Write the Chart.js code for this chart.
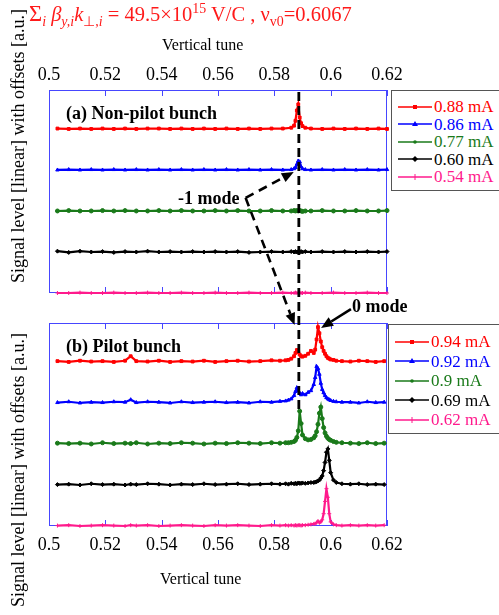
<!DOCTYPE html>
<html><head><meta charset="utf-8">
<script src="https://cdn.jsdelivr.net/npm/chart.js@4/dist/chart.umd.min.js"></script>
<style>
html,body{margin:0;padding:0;background:#fff;}
#wrap{position:relative;width:499px;height:615px;overflow:hidden;font-family:"Liberation Serif","Times New Roman",serif;color:#000;}
canvas{position:absolute;left:0;}
#cA{top:0;}
#cB{top:300px;}
#ov{top:0;pointer-events:none;}
.t{position:absolute;white-space:nowrap;line-height:1;}
sub,sup{font-size:0.68em;line-height:0;}
.b{font-weight:bold;font-size:18px;}
.ylab{position:absolute;font-size:18px;white-space:nowrap;line-height:1;transform:translate(-50%,-50%) rotate(-90deg);}
.leg{position:absolute;border:1px solid #555;background:#fff;font-size:17px;}
.leg div{position:absolute;left:6px;white-space:nowrap;line-height:1;display:flex;align-items:center;}
.leg svg{margin-right:2px;}
</style></head>
<body>
<div id="wrap">
<canvas id="cA" width="499" height="300"></canvas>
<canvas id="cB" width="499" height="315"></canvas>
<canvas id="ov" width="499" height="615"></canvas>

<div class="t" style="left:29px;top:3px;color:#ff1a1a;font-size:20.5px"><span style="font-size:1.1em">Σ</span><sub><i>i</i></sub> <i>β</i><sub><i>y,i</i></sub><i>k</i><sub>⊥,<i>i</i></sub> = 49.5×10<sup>15</sup> V/C , ν<sub>v0</sub>=0.6067</div>
<div class="t" style="left:162px;top:37px;font-size:16px">Vertical tune</div>
<div class="t" style="left:160px;top:571px;font-size:16px">Vertical tune</div>
<div class="ylab" style="left:18px;top:146px">Signal level [linear] with offsets [a.u.]</div>
<div class="ylab" style="left:18px;top:470px">Signal level [linear] with offsets [a.u.]</div>
<div class="t b" style="left:66px;top:104px">(a) Non-pilot bunch</div>
<div class="t b" style="left:66px;top:337px">(b) Pilot bunch</div>
<div class="t b" style="left:178px;top:189px">-1 mode</div>
<div class="t b" style="left:352px;top:297px">0 mode</div>
<div id="legA" class="leg" style="left:391px;top:90px;width:120px;height:99px"></div>
<div id="legB" class="leg" style="left:388px;top:324px;width:120px;height:108px"></div>
</div>
<script>
// ---------------- data ----------------
const tuneTicks = [0.5, 0.52, 0.54, 0.56, 0.58, 0.6, 0.62];
const offsets = [4, 3, 2, 1, 0];

// (a) Non-pilot bunch
const tuneA = [0.503,0.507,0.511,0.515,0.519,0.523,0.527,0.531,0.535,0.539,0.543,0.547,0.551,0.555,0.559,0.563,0.567,0.571,0.575,0.579,0.583,
  0.586,0.587,0.5875,0.588,0.5885,0.589,0.5895,0.590,0.591,
  0.593,0.597,0.601,0.605,0.609,0.613,0.617,0.620];
const labelsA = ['0.88 mA','0.86 mA','0.77 mA','0.60 mA','0.54 mA'];
const a088 = [0.01,0.00,0.01,0.00,0.01,0.00,0.01,0.00,0.01,0.01,0.00,0.01,0.00,0.01,0.00,0.01,0.00,0.01,0.00,0.01,0.01,
  0.03,0.08,0.20,0.45,0.60,0.28,0.14,0.07,0.03,
  0.01,0.00,0.01,0.00,0.01,0.00,0.01,0.00];
const a086 = [0.00,0.01,0.00,0.01,0.00,0.01,0.00,0.01,0.00,0.01,0.00,0.01,0.00,0.01,0.00,0.01,0.00,0.01,0.00,0.01,0.00,
  0.01,0.03,0.06,0.14,0.22,0.20,0.08,0.03,0.01,
  0.00,0.01,0.00,0.01,0.00,0.01,0.00,0.01];
const a077 = [0.00,0.01,0.00,0.00,0.01,0.00,0.01,0.00,0.00,0.01,0.00,0.01,0.00,0.00,0.01,0.00,0.01,0.00,0.00,0.01,0.00,
  0.00,0.01,0.00,0.01,0.00,0.01,0.00,-0.01,0.00,
  0.00,0.01,0.00,0.00,0.01,0.00,0.00,0.01];
const a060 = [0.02,-0.01,0.02,0.00,0.01,-0.01,0.01,0.00,0.02,0.00,0.01,0.00,0.01,0.00,0.01,0.00,0.01,-0.01,0.00,0.01,0.00,
  0.01,0.00,0.01,0.00,0.01,0.00,0.01,0.00,0.01,
  0.00,0.01,0.00,0.01,0.00,0.01,0.00,0.01];
const a054 = [0.00,0.00,0.01,0.00,0.00,0.01,0.00,0.00,0.01,0.00,0.00,0.01,0.00,0.00,0.01,0.00,0.00,0.01,0.00,0.00,0.01,
  0.00,0.00,0.01,0.00,0.00,0.01,0.00,0.00,0.01,
  0.00,0.00,0.01,0.00,0.00,0.01,0.00,0.00];

// (b) Pilot bunch
const tuneB = [0.503,0.507,0.511,0.515,0.519,0.523,0.527,0.529,0.531,0.535,0.539,0.543,0.547,0.551,0.555,0.559,0.563,0.567,0.571,0.575,0.579,0.582,
  0.584,0.585,0.586,0.587,0.5875,0.588,0.5885,0.589,0.5895,0.590,0.591,0.592,0.593,0.594,0.5945,0.595,0.5955,0.596,0.5965,0.597,0.5975,0.598,0.5985,0.599,0.5995,0.600,0.601,0.602,0.604,
  0.607,0.610,0.613,0.616,0.619];
const labelsB = ['0.94 mA','0.92 mA','0.9 mA','0.69 mA','0.62 mA'];
const b094 = [0.02,0.00,0.03,0.01,0.02,0.00,0.03,0.14,0.02,0.01,0.03,0.00,0.02,0.01,0.03,0.00,0.02,0.03,0.01,0.02,0.04,0.03,
  0.04,0.05,0.08,0.14,0.22,0.29,0.24,0.18,0.14,0.13,0.15,0.20,0.27,0.22,0.30,0.55,0.85,0.70,0.50,0.36,0.27,0.20,0.14,0.10,0.08,0.06,0.05,0.03,0.02,
  0.01,0.03,0.02,0.00,0.02];
const b092 = [0.01,0.03,0.00,0.02,0.01,0.03,0.02,0.08,0.01,0.03,0.02,0.00,0.03,0.01,0.02,0.03,0.01,0.02,0.00,0.03,0.02,0.04,
  0.05,0.07,0.10,0.18,0.28,0.37,0.30,0.24,0.20,0.23,0.20,0.26,0.30,0.45,0.62,0.89,0.84,0.70,0.48,0.33,0.25,0.18,0.13,0.10,0.08,0.06,0.04,0.03,0.02,
  0.02,0.00,0.03,0.01,0.02];
const b090 = [0.02,0.01,0.02,0.00,0.03,0.01,0.02,0.01,0.03,0.00,0.02,0.01,0.03,0.02,0.00,0.02,0.01,0.03,0.02,0.01,0.03,0.02,
  0.03,0.03,0.04,0.06,0.09,0.16,0.32,0.80,0.50,0.22,0.13,0.10,0.11,0.15,0.20,0.30,0.48,0.75,0.90,0.62,0.40,0.27,0.19,0.14,0.11,0.09,0.06,0.04,0.03,
  0.02,0.01,0.03,0.01,0.02];
const b069 = [0.01,0.02,0.00,0.03,0.01,0.02,0.00,0.02,0.01,0.03,0.02,0.00,0.02,0.01,0.03,0.01,0.02,0.03,0.01,0.02,0.03,0.02,
  0.03,0.02,0.04,0.03,0.04,0.03,0.05,0.04,0.04,0.05,0.04,0.05,0.06,0.06,0.07,0.08,0.10,0.12,0.17,0.22,0.35,0.55,0.80,0.88,0.60,0.30,0.12,0.06,0.03,
  0.02,0.03,0.01,0.02,0.01];
const b062 = [0.01,0.02,0.00,0.01,0.02,0.01,0.00,0.02,0.01,0.02,0.00,0.01,0.02,0.01,0.00,0.02,0.01,0.02,0.01,0.00,0.02,0.01,
  0.02,0.01,0.02,0.01,0.02,0.01,0.02,0.02,0.01,0.02,0.02,0.03,0.04,0.05,0.06,0.08,0.12,0.08,0.10,0.15,0.30,0.60,0.91,0.70,0.30,0.10,0.04,0.02,0.01,
  0.02,0.01,0.02,0.01,0.02];

const colors = ['#ff0000','#0000ff','#1a7a1a','#000000','#ff1a8c'];
const markers = ['rect','triangle','circle','rectRot','cross'];

// annotation anchors in data units
const modeLineTune = 0.5887;
const modeLineTopY = 4.95;   // panel (a)
const modeLineEndY = 2.8;    // panel (b)
const minusOneFrom = [0.5698, 2.32];   // panel (a)
const minusOneTipA = [0.5869, 2.95];   // panel (a)
const minusOneTipB = [0.5872, 4.90];   // panel (b)
const zeroFrom = [0.6072, 5.29];       // panel (b)
const zeroTip = [0.5966, 4.83];        // panel (b)

// ---------------- chart ----------------
const FONT = '"Liberation Serif","Times New Roman",serif';
const FRAME = '#4646ff';

const framePlugin = {
  id: 'frame',
  beforeDatasetsDraw(chart) {
    const {ctx, chartArea: a, scales: {x}} = chart;
    ctx.save();
    ctx.strokeStyle = FRAME;
    ctx.lineWidth = 1;
    ctx.strokeRect(a.left + 0.5, a.top + 0.5, a.right - a.left - 1, a.bottom - a.top - 1);
    ctx.beginPath();
    tuneTicks.forEach(v => {
      const p = Math.round(x.getPixelForValue(v)) + 0.5;
      ctx.moveTo(p, a.top); ctx.lineTo(p, a.top + 6);
      ctx.moveTo(p, a.bottom); ctx.lineTo(p, a.bottom - 6);
    });
    ctx.stroke();
    ctx.restore();
  }
};

function buildSets(tunes, series) {
  return series.map((vals, i) => ({
    data: tunes.map((t, j) => ({x: t, y: vals[j] + offsets[i]})),
    borderColor: colors[i], backgroundColor: colors[i],
    pointStyle: markers[i], pointRadius: 2, pointBorderWidth: 1,
    borderWidth: 2.2, tension: 0, clip: 5
  })).reverse();
}

function xScale(position, h, pad) {
  return {
    type: 'linear', position, min: 0.5, max: 0.62,
    afterBuildTicks: s => { s.ticks = tuneTicks.map(v => ({value: v})); },
    ticks: {autoSkip: false, maxRotation: 0, padding: pad, color: '#000',
      font: {family: FONT, size: 18}, callback: v => String(+(+v).toFixed(2))},
    grid: {display: false, drawTicks: false}, border: {display: false},
    afterFit: s => { s.height = h; }
  };
}

const chartA = new Chart(document.getElementById('cA'), {
  type: 'line',
  data: {datasets: buildSets(tuneA, [a088, a086, a077, a060, a054])},
  options: {
    responsive: false, animation: false, events: [],
    layout: {padding: {left: 49, right: 112, top: 0, bottom: 7}},
    plugins: {legend: {display: false}, tooltip: {enabled: false}},
    scales: {x: xScale('top', 90, 4), y: {display: false, min: 0, max: 4.95}}
  },
  plugins: [framePlugin]
});

const chartB = new Chart(document.getElementById('cB'), {
  type: 'line',
  data: {datasets: buildSets(tuneB, [b094, b092, b090, b069, b062])},
  options: {
    responsive: false, animation: false, events: [],
    layout: {padding: {left: 49, right: 112, top: 23, bottom: 0}},
    plugins: {legend: {display: false}, tooltip: {enabled: false}},
    scales: {x: xScale('bottom', 89, 8), y: {display: false, min: 0, max: 4.95}}
  },
  plugins: [framePlugin]
});

// ---------------- annotations ----------------
function pt(chart, off, d) {
  return [chart.scales.x.getPixelForValue(d[0]), off + chart.scales.y.getPixelForValue(d[1])];
}
function arrow(ctx, p0, p1, dashed) {
  const L = 12, W = 5;
  const dx = p1[0] - p0[0], dy = p1[1] - p0[1];
  const len = Math.hypot(dx, dy), ux = dx / len, uy = dy / len;
  const bx = p1[0] - ux * L, by = p1[1] - uy * L;
  ctx.save();
  ctx.lineWidth = 2.6;
  ctx.strokeStyle = '#000';
  ctx.setLineDash(dashed ? [9, 6] : []);
  ctx.beginPath(); ctx.moveTo(p0[0], p0[1]); ctx.lineTo(bx, by); ctx.stroke();
  ctx.setLineDash([]);
  ctx.fillStyle = '#000';
  ctx.beginPath();
  ctx.moveTo(p1[0], p1[1]);
  ctx.lineTo(bx - uy * W, by + ux * W);
  ctx.lineTo(bx + uy * W, by - ux * W);
  ctx.closePath(); ctx.fill();
  ctx.restore();
}
function drawOverlay() {
  const ctx = document.getElementById('ov').getContext('2d');
  const top = pt(chartA, 0, [modeLineTune, modeLineTopY]);
  const bot = pt(chartB, 300, [modeLineTune, modeLineEndY]);
  ctx.save();
  ctx.lineWidth = 2.8; ctx.strokeStyle = '#000'; ctx.setLineDash([9, 5]);
  ctx.beginPath(); ctx.moveTo(top[0], top[1] + 2); ctx.lineTo(bot[0], bot[1]); ctx.stroke();
  ctx.restore();
  const f = pt(chartA, 0, minusOneFrom);
  arrow(ctx, f, pt(chartA, 0, minusOneTipA), true);
  arrow(ctx, f, pt(chartB, 300, minusOneTipB), true);
  arrow(ctx, pt(chartB, 300, zeroFrom), pt(chartB, 300, zeroTip), false);
}
drawOverlay();

// ---------------- legends ----------------
function sample(color, marker) {
  let m = '';
  if (marker === 'rect') m = `<rect x="15" y="3" width="4" height="4" fill="${color}"/>`;
  else if (marker === 'triangle') m = `<polygon points="17,2 20,7 14,7" fill="${color}"/>`;
  else if (marker === 'circle') m = `<circle cx="17" cy="5" r="1.8" fill="${color}"/>`;
  else if (marker === 'rectRot') m = `<polygon points="17,2 20,5 17,8 14,5" fill="${color}"/>`;
  else m = `<line x1="17" y1="2" x2="17" y2="8" stroke="${color}" stroke-width="1"/>`;
  return `<svg width="34" height="10"><line x1="0" y1="5" x2="34" y2="5" stroke="${color}" stroke-width="1.3"/>${m}</svg>`;
}
function legend(id, labels, y0, dy) {
  const el = document.getElementById(id);
  el.innerHTML = labels.map((l, i) =>
    `<div style="top:${y0 + i * dy - 8}px;color:${colors[i]}">${sample(colors[i], markers[i])}${l}</div>`).join('');
}
legend('legA', labelsA, 15, 17.5);
legend('legB', labelsB, 16, 19.5);
</script>
</body></html>
